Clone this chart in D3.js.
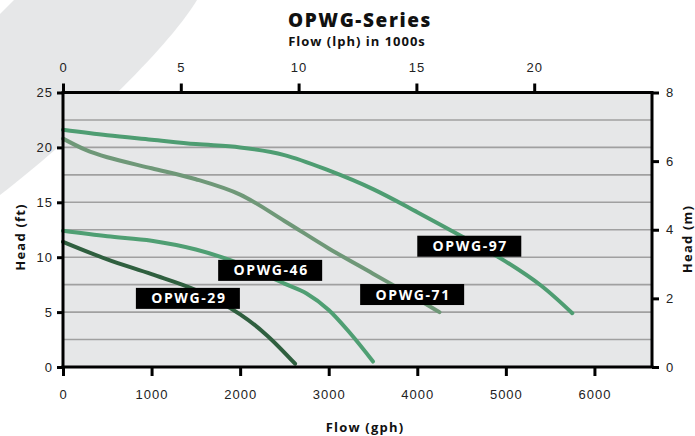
<!DOCTYPE html>
<html><head><meta charset="utf-8">
<script src="https://cdn.jsdelivr.net/npm/d3@7"></script>
<style>
html,body{margin:0;padding:0;background:#fff;}
svg{display:block;font-family:"Open Sans","Lato",sans-serif;}
</style></head>
<body>
<svg id="c" width="695" height="436"></svg>
<script>
// ---- data ----
const seriesNames = ["OPWG-97", "OPWG-71", "OPWG-46", "OPWG-29"];
const opwg97 = [[0,21.6],[500,21.1],[1000,20.7],[1500,20.3],[2000,20.0],[2500,19.3],[3000,17.9],[3500,16.2],[4000,14.1],[4500,11.9],[5000,9.6],[5400,7.4],[5750,4.9]];
const opwg71 = [[0,20.8],[250,19.8],[500,19.1],[1000,18.1],[1500,17.1],[2000,15.7],[2500,13.3],[3000,10.8],[3500,8.5],[4000,6.2],[4250,5.0]];
const opwg46 = [[0,12.4],[500,11.9],[1000,11.5],[1500,10.7],[2000,9.4],[2500,7.6],[2750,6.7],[3000,5.2],[3250,3.0],[3500,0.5]];
const opwg29 = [[0,11.4],[500,9.8],[1000,8.45],[1500,7.0],[2000,4.8],[2300,2.9],[2620,0.3]];
// label anchors (gph, ft) of each series' tag
const labelAnchors = [[4587,11.0],[3942,6.6],[2339,8.8],[1410,6.25]];
const gphTicks = [0,1000,2000,3000,4000,5000,6000];
const lphTicks = [0,5,10,15,20];
const ftTicks = [0,5,10,15,20,25];
const mTicks = [0,2,4,6,8];
const gridFt = [2.5,5,7.5,10,12.5,15,17.5,20,22.5];

const colors = ["#4e9d72","#6f9878","#4f9f73","#2f5f3f"];
const allSeries = [opwg97, opwg71, opwg46, opwg29];

const svg = d3.select("#c");
const L=63, R=652, T=92.5, B=367;

// background swoosh
svg.append("path")
  .attr("d","M14,0 L197,0 C172,42 90,125 0,195 L0,14 Z")
  .attr("fill","#e6e7e8");

const x = d3.scaleLinear().domain([0,6650]).range([L,R]);
const xTop = d3.scaleLinear().domain([0,25]).range([L,R]);
const y = d3.scaleLinear().domain([0,25]).range([B,T]);
const yR = d3.scaleLinear().domain([0,8]).range([B,T]);

svg.append("rect").attr("x",L).attr("y",T).attr("width",R-L).attr("height",B-T).attr("fill","#e6e7e8");

svg.append("g").selectAll("line").data(gridFt).join("line")
  .attr("x1",L).attr("x2",R).attr("y1",d=>y(d)).attr("y2",d=>y(d))
  .attr("stroke","#a0a0a0").attr("stroke-width",1.6);

const line = d3.line().x(d=>x(d[0])).y(d=>y(d[1])).curve(d3.curveCatmullRom.alpha(0.5));
svg.append("g").selectAll("path").data(allSeries).join("path")
  .attr("d",line).attr("fill","none")
  .attr("stroke",(d,i)=>colors[i]).attr("stroke-width",4).attr("stroke-linecap","round");

// labels
const lg = svg.append("g").selectAll("g").data(seriesNames).join("g")
  .attr("transform",(d,i)=>`translate(${x(labelAnchors[i][0])},${y(labelAnchors[i][1])})`);
lg.append("rect").attr("x",-52).attr("y",-10.5).attr("width",104).attr("height",21).attr("fill","#000");
lg.append("text").text(d=>d).attr("text-anchor","middle").attr("dy","0.36em").attr("x",1)
  .attr("fill","#fff").attr("font-weight","bold").attr("font-size",14).attr("letter-spacing",1.6);

// axes
function styleAxis(g){
  g.select(".domain").remove();
  g.selectAll(".tick line").attr("stroke","#000").attr("stroke-width",3);
  g.selectAll(".tick text").attr("fill","#222").attr("font-size",13).attr("letter-spacing",1);
}
const fmt = d3.format("d");
svg.append("g").attr("transform",`translate(0,${B})`)
  .call(d3.axisBottom(x).tickValues(gphTicks).tickFormat(fmt).tickSize(9).tickPadding(14)).call(styleAxis);
svg.append("g").attr("transform",`translate(0,${T})`)
  .call(d3.axisTop(xTop).tickValues(lphTicks).tickFormat(fmt).tickSize(9).tickPadding(12)).call(styleAxis);
svg.append("g").attr("transform",`translate(${L},0)`)
  .call(d3.axisLeft(y).tickValues(ftTicks).tickFormat(fmt).tickSize(6).tickPadding(4)).call(styleAxis);
svg.append("g").attr("transform",`translate(${R},0)`)
  .call(d3.axisRight(yR).tickValues(mTicks).tickFormat(fmt).tickSize(7).tickPadding(7)).call(styleAxis);

// frame lines
const frame = svg.append("g").attr("stroke","#000").attr("stroke-width",3);
frame.append("line").attr("x1",L-1.5).attr("x2",R+1.5).attr("y1",T).attr("y2",T);
frame.append("line").attr("x1",L-1.5).attr("x2",R+1.5).attr("y1",B).attr("y2",B);
frame.append("line").attr("x1",L).attr("x2",L).attr("y1",T).attr("y2",B);
frame.append("line").attr("x1",R).attr("x2",R).attr("y1",T).attr("y2",B);

// titles
svg.append("text").text("OPWG-Series").attr("x",360).attr("y",27).attr("text-anchor","middle")
  .attr("font-weight","800").attr("font-size",19).attr("letter-spacing",1.6).attr("fill","#111");
svg.append("text").text("Flow (lph) in 1000s").attr("x",357).attr("y",46).attr("text-anchor","middle")
  .attr("font-weight","bold").attr("font-size",13).attr("letter-spacing",1).attr("fill","#111");
svg.append("text").text("Flow (gph)").attr("x",365).attr("y",432).attr("text-anchor","middle")
  .attr("font-weight","bold").attr("font-size",13).attr("letter-spacing",1.2).attr("fill","#111");
svg.append("text").text("Head (ft)").attr("transform","translate(25,237) rotate(-90)").attr("text-anchor","middle")
  .attr("font-weight","bold").attr("font-size",13).attr("letter-spacing",1.2).attr("fill","#111");
svg.append("text").text("Head (m)").attr("transform","translate(692,239) rotate(-90)").attr("text-anchor","middle")
  .attr("font-weight","bold").attr("font-size",13).attr("letter-spacing",1.2).attr("fill","#111");
</script>
</body></html>
